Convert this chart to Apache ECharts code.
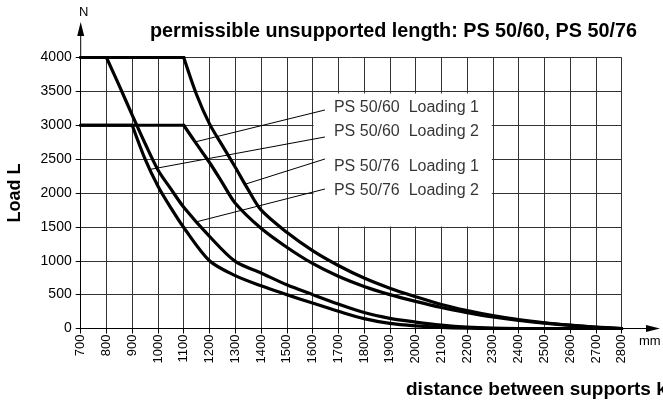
<!DOCTYPE html>
<html><head><meta charset="utf-8">
<script src="https://cdn.jsdelivr.net/npm/echarts@6/dist/echarts.min.js"></script>
<style>html,body{margin:0;padding:0;background:#fff}#c{width:663px;height:402px}</style>
</head><body><div id="c"></div>
<script>
// ---- data ----
const xMin = 700, xMax = 2800, xStep = 100;
const yMin = 0, yMax = 4000, yStep = 500;

// PS 50/76 Loading 1 (flat 4000 up to 1100)
const aX = [700, 1100, 1150, 1200, 1250, 1300, 1350, 1400, 1500, 1600, 1700, 1800, 1900, 2000, 2100, 2200, 2300, 2400, 2500, 2600, 2700, 2800];
const aY = [4000, 4000, 3450, 3020, 2700, 2380, 2050, 1750, 1420, 1150, 930, 745, 595, 470, 355, 265, 190, 130, 85, 50, 20, 0];
// PS 50/60 Loading 1 (flat 3000 up to 1100)
const bX = [700, 1100, 1150, 1200, 1250, 1300, 1400, 1500, 1600, 1700, 1800, 1900, 2000, 2100, 2200, 2300, 2400, 2500, 2600, 2700, 2800];
const bY = [3000, 3000, 2720, 2450, 2150, 1850, 1480, 1200, 960, 770, 620, 500, 400, 310, 235, 170, 118, 78, 45, 18, 0];
// PS 50/76 Loading 2 (flat 4000 up to 800)
const cX = [700, 800, 850, 900, 950, 1000, 1050, 1100, 1200, 1300, 1400, 1500, 1600, 1700, 1800, 1900, 2000, 2100, 2200, 2300, 2400, 2800];
const cY = [4000, 4000, 3580, 3150, 2730, 2340, 2060, 1790, 1360, 990, 820, 645, 500, 360, 235, 150, 95, 50, 20, 5, 0, 0];
// PS 50/60 Loading 2 (flat 3000 up to 900)
const dX = [700, 900, 950, 1000, 1050, 1100, 1200, 1300, 1400, 1500, 1600, 1700, 1800, 1900, 2000, 2100, 2200, 2300, 2800];
const dY = [3000, 3000, 2500, 2100, 1780, 1490, 1000, 780, 630, 500, 375, 255, 145, 75, 38, 15, 4, 0, 0];

const labelNames = ['PS 50/60  Loading 1', 'PS 50/60  Loading 2', 'PS 50/76  Loading 1', 'PS 50/76  Loading 2'];
const labelCurve = ['b', 'd', 'a', 'c'];
const leaderFromX = [1144, 969, 1338, 1150];
const leaderToX = 1648;
const leaderToY = [3225, 2827, 2502, 2059];
const labelX = 1683;
const labelY = [3255, 2900, 2383, 2030];
const boxX = [1604, 2296];
const boxY = [1507, 3470];

const titleText = 'permissible unsupported length: PS 50/60, PS 50/76';
const xName = 'distance between supports k';
const yName = 'Load L';
const xUnit = 'mm';
const yUnit = 'N';

// ---- helpers ----
const curves = { a: [aX, aY], b: [bX, bY], c: [cX, cY], d: [dX, dY] };
function pairs(xs, ys, from, to) {
  const r = [];
  for (let i = from; i <= to; i++) r.push([xs[i], ys[i]]);
  return r;
}
function interp(xs, ys, x) {
  for (let i = 0; i < xs.length - 1; i++) {
    if (x >= xs[i] && x <= xs[i + 1]) {
      const t = (x - xs[i]) / (xs[i + 1] - xs[i]);
      return ys[i] + t * (ys[i + 1] - ys[i]);
    }
  }
  return ys[ys.length - 1];
}
const FONT = 'Liberation Sans, Arial, Helvetica, sans-serif';
const series = [];
function lineSeries(data, smooth) {
  return { type: 'line', data: data, symbol: 'none', z: 5, smooth: smooth ? 0.3 : false,
    lineStyle: { color: '#000', width: 3.2, cap: 'round', join: 'round' }, silent: true, animation: false };
}
Object.keys(curves).forEach(k => {
  const [xs, ys] = curves[k];
  const n = xs.length;
  let s = 0;
  while (s + 1 < n && ys[s + 1] === ys[0]) s++;
  let e = n - 1;
  while (e - 1 > s && ys[e - 1] === ys[n - 1]) e--;
  series.push(lineSeries(pairs(xs, ys, 0, s), false));
  series.push(lineSeries(pairs(xs, ys, s, e), true));
  if (e < n - 1) series.push(lineSeries(pairs(xs, ys, e, n - 1), false));
});
// white legend box
series.push({ type: 'line', data: [], z: 3, animation: false,
  markArea: { silent: true, itemStyle: { color: '#fff', opacity: 1 },
    data: [[{ coord: [boxX[0], boxY[0]] }, { coord: [boxX[1], boxY[1]] }]] } });
// leader lines
labelNames.forEach((n, i) => {
  const [xs, ys] = curves[labelCurve[i]];
  series.push({ type: 'line', symbol: 'none', z: 6, animation: false, silent: true,
    data: [[leaderFromX[i], interp(xs, ys, leaderFromX[i])], [leaderToX, leaderToY[i]]],
    lineStyle: { color: '#000', width: 1 } });
});
// labels
series.push({ type: 'scatter', symbolSize: 0, z: 7, animation: false, silent: true,
  data: labelNames.map((n, i) => ({ value: [labelX, labelY[i]], name: n })),
  label: { show: true, position: 'right', distance: 0, formatter: p => p.name,
    color: '#000', fontSize: 16, fontFamily: FONT } });

const chart = echarts.init(document.getElementById('c'), null, { renderer: 'canvas' });
chart.setOption({
  animation: false,
  backgroundColor: '#fff',
  grid: { left: 80.7, right: 41.3, top: 57.5, bottom: 73.5, containLabel: false },
  xAxis: { type: 'value', min: xMin, max: xMax, interval: xStep,
    axisLine: { show: true, lineStyle: { color: '#000', width: 1 } },
    axisTick: { show: true, length: 5, lineStyle: { color: '#000' } },
    axisLabel: { rotate: 90, fontSize: 13, color: '#000', fontFamily: FONT, margin: 6, formatter: v => String(v) },
    splitLine: { show: true, lineStyle: { color: '#333', width: 1 } } },
  yAxis: { type: 'value', min: yMin, max: yMax, interval: yStep,
    axisLine: { show: true, lineStyle: { color: '#000', width: 1 } },
    axisTick: { show: true, length: 5, lineStyle: { color: '#000' } },
    axisLabel: { fontSize: 14, color: '#000', fontFamily: FONT, margin: 9, formatter: v => String(v) },
    splitLine: { show: true, lineStyle: { color: '#333', width: 1 } } },
  series: series
});

const o = chart.convertToPixel({ gridIndex: 0 }, [xMin, yMin]);
const xe = chart.convertToPixel({ gridIndex: 0 }, [xMax, yMin]);
const ye = chart.convertToPixel({ gridIndex: 0 }, [xMin, yMax]);
const arrowX = 660, arrowYTop = 22;
chart.setOption({
  graphic: [
    { type: 'line', shape: { x1: xe[0], y1: o[1], x2: arrowX - 10, y2: o[1] }, style: { stroke: '#000', lineWidth: 1 } },
    { type: 'polygon', shape: { points: [[arrowX, o[1]], [arrowX - 14, o[1] - 3.5], [arrowX - 14, o[1] + 3.5]] }, style: { fill: '#000' } },
    { type: 'line', shape: { x1: o[0], y1: ye[1], x2: o[0], y2: arrowYTop + 10 }, style: { stroke: '#000', lineWidth: 1 } },
    { type: 'polygon', shape: { points: [[o[0], arrowYTop], [o[0] - 3.5, arrowYTop + 14], [o[0] + 3.5, arrowYTop + 14]] }, style: { fill: '#000' } },
    { type: 'text', left: 79, top: 6, style: { text: yUnit, font: '13px ' + FONT, fill: '#000' } },
    { type: 'text', left: 639, top: 335, style: { text: xUnit, font: '13px ' + FONT, fill: '#000' } },
    { type: 'text', left: 150, top: 22, style: { text: titleText, font: 'bold 19.8px ' + FONT, fill: '#000' } },
    { type: 'text', left: 406, top: 380, style: { text: xName, font: 'bold 19px ' + FONT, fill: '#000' } },
    { type: 'text', x: 15, y: 193, rotation: Math.PI / 2, style: { text: yName, font: 'bold 18px ' + FONT, fill: '#000', align: 'center', verticalAlign: 'middle' } }
  ]
});
</script></body></html>
